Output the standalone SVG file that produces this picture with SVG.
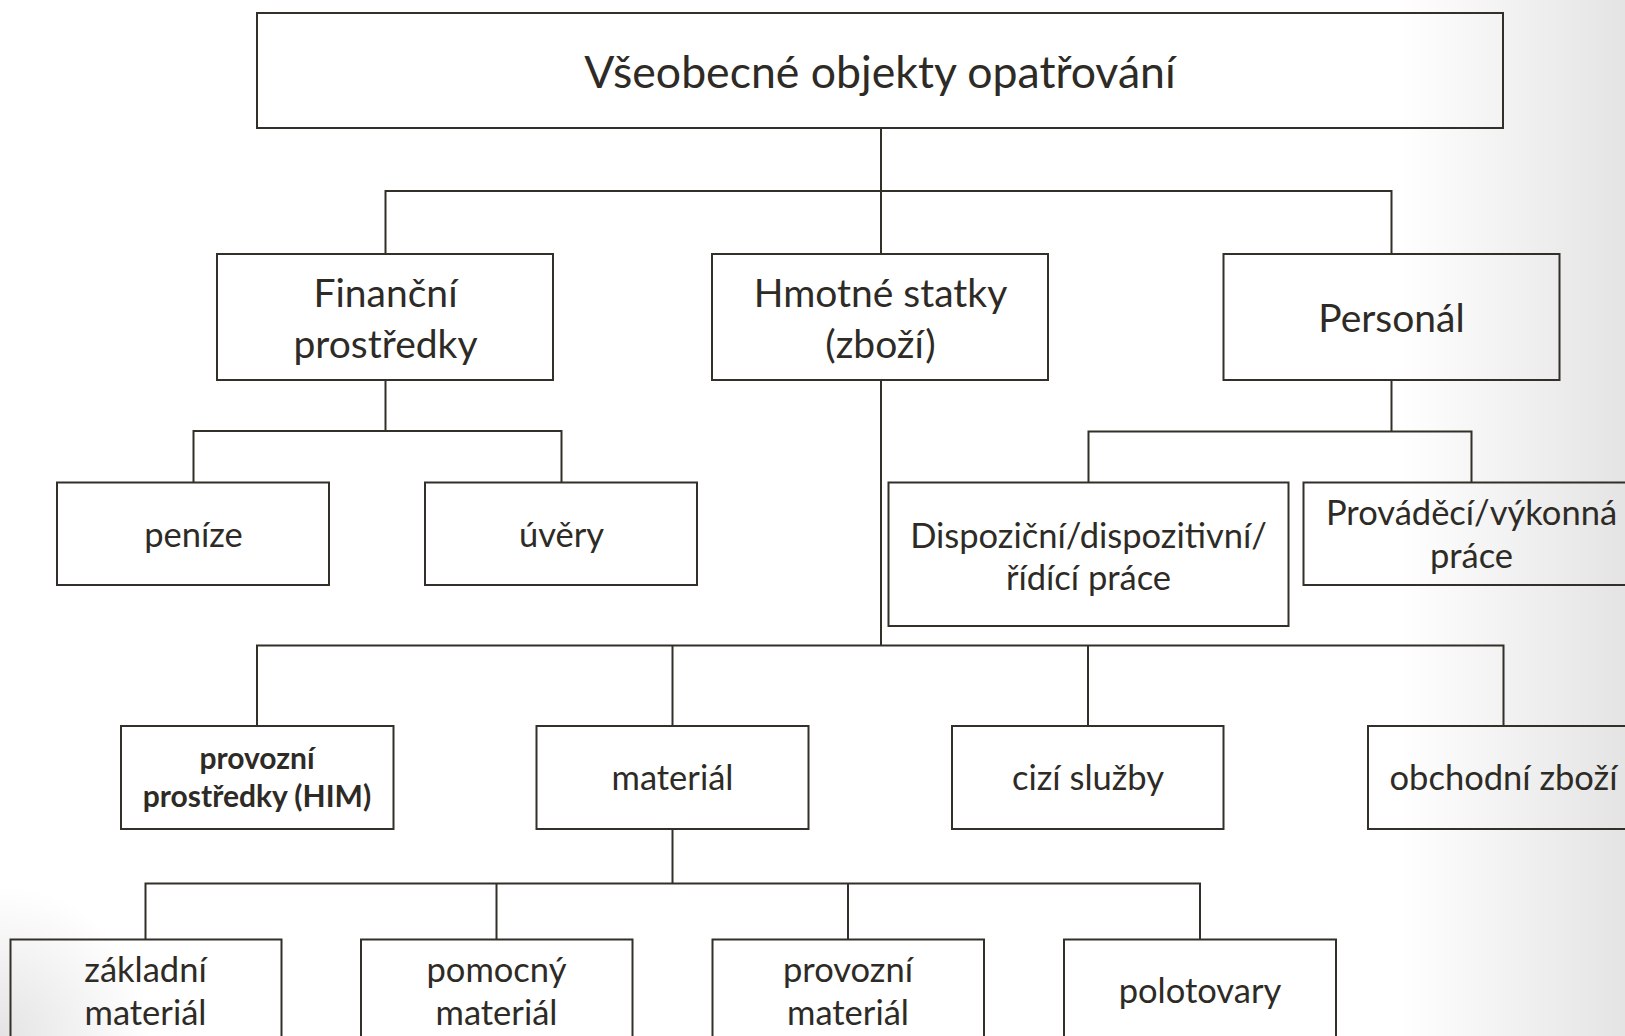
<svg xmlns="http://www.w3.org/2000/svg" width="1625" height="1036" viewBox="0 0 1625 1036">
  <defs>
    <linearGradient id="bgRight" x1="1400" y1="0" x2="1625" y2="0" gradientUnits="userSpaceOnUse">
      <stop offset="0" stop-color="#e4e4e4" stop-opacity="0"/>
      <stop offset="1" stop-color="#e4e4e4" stop-opacity="1"/>
    </linearGradient>
    <radialGradient id="bgCorner" cx="0" cy="1036" r="150" gradientUnits="userSpaceOnUse">
      <stop offset="0" stop-color="#e4e4e4" stop-opacity="1"/>
      <stop offset="1" stop-color="#e4e4e4" stop-opacity="0"/>
    </radialGradient>
    <style>
      .box { fill: none; stroke: #332f29; stroke-width: 2; }
      .con { fill: none; stroke: #332f29; stroke-width: 2; }
      .t { font-family: Lato, "Open Sans", sans-serif; fill: #2e2b26; text-anchor: middle; }
      .l1 { font-size: 44.6px; }
      .l2 { font-size: 39px; }
      .l3 { font-size: 34.5px; }
      .b { font-size: 30px; font-weight: bold; }
    </style>
  </defs>

  <rect x="0" y="0" width="1625" height="1036" fill="#ffffff"/>
  <rect x="1400" y="0" width="225" height="1036" fill="url(#bgRight)"/>
  <rect x="0" y="886" width="150" height="150" fill="url(#bgCorner)"/>

  <g id="connectors">
    <path class="con" d="M881 128 V254"/>
    <path class="con" d="M385.5 254 V191 H1391.5 V254"/>
    <path class="con" d="M385.5 380 V431"/>
    <path class="con" d="M193.5 482.5 V431 H561.5 V482.5"/>
    <path class="con" d="M1391.5 380 V431.5"/>
    <path class="con" d="M1088.5 482.5 V431.5 H1471.5 V482.5"/>
    <path class="con" d="M881 380 V645.5"/>
    <path class="con" d="M257 726 V645.5 H1503.5 V726"/>
    <path class="con" d="M672.5 645.5 V726"/>
    <path class="con" d="M1088 645.5 V726"/>
    <path class="con" d="M672.5 829 V883.5"/>
    <path class="con" d="M145.5 939.5 V883.5 H1200 V939.5"/>
    <path class="con" d="M496.5 883.5 V939.5"/>
    <path class="con" d="M848 883.5 V939.5"/>
  </g>

  <g id="node-root">
    <rect class="box" x="257" y="13" width="1246" height="115"/>
    <text class="t l1" x="880" y="88">Všeobecné objekty opatřování</text>
  </g>

  <g id="node-financni">
    <rect class="box" x="217" y="254" width="336" height="126"/>
    <text class="t l2" x="385.5" y="306.5">Finanční<tspan x="385.5" y="357.5">prostředky</tspan></text>
  </g>

  <g id="node-hmotne">
    <rect class="box" x="712" y="254" width="336" height="126"/>
    <text class="t l2" x="880.5" y="306.5">Hmotné statky<tspan x="880.5" y="357.5">(zboží)</tspan></text>
  </g>

  <g id="node-personal">
    <rect class="box" x="1223.5" y="254" width="336" height="126"/>
    <text class="t l2" x="1391.5" y="331.5">Personál</text>
  </g>

  <g id="node-penize">
    <rect class="box" x="57" y="482.5" width="272" height="102.5"/>
    <text class="t l3" x="193.5" y="547">peníze</text>
  </g>

  <g id="node-uvery">
    <rect class="box" x="425" y="482.5" width="272" height="102.5"/>
    <text class="t l3" x="561.5" y="547">úvěry</text>
  </g>

  <g id="node-dispozicni">
    <rect class="box" x="888.5" y="482.5" width="400" height="143.5"/>
    <text class="t l3" x="1088.5" y="547.5">Dispoziční/dispozitivní/<tspan x="1088.5" y="590">řídící práce</tspan></text>
  </g>

  <g id="node-provadeci">
    <rect class="box" x="1303.5" y="482.5" width="337" height="102.5"/>
    <text class="t l3" x="1471.5" y="525">Prováděcí/výkonná<tspan x="1471.5" y="568">práce</tspan></text>
  </g>

  <g id="node-provozni-prostredky">
    <rect class="box" x="121" y="726" width="272.5" height="103"/>
    <text class="t b" x="257" y="768.5">provozní<tspan x="257" y="806.5">prostředky (HIM)</tspan></text>
  </g>

  <g id="node-material">
    <rect class="box" x="536.5" y="726" width="272" height="103"/>
    <text class="t l3" x="672.5" y="789.5">materiál</text>
  </g>

  <g id="node-cizi-sluzby">
    <rect class="box" x="952" y="726" width="271.5" height="103"/>
    <text class="t l3" x="1088" y="789.5">cizí služby</text>
  </g>

  <g id="node-obchodni-zbozi">
    <rect class="box" x="1368" y="726" width="272" height="103"/>
    <text class="t l3" x="1503.5" y="789.5">obchodní zboží</text>
  </g>

  <g id="node-zakladni">
    <rect class="box" x="10.5" y="939.5" width="271" height="140"/>
    <text class="t l3" x="145.5" y="981.5">základní<tspan x="145.5" y="1025">materiál</tspan></text>
  </g>

  <g id="node-pomocny">
    <rect class="box" x="361" y="939.5" width="271.5" height="140"/>
    <text class="t l3" x="496.5" y="981.5">pomocný<tspan x="496.5" y="1025">materiál</tspan></text>
  </g>

  <g id="node-provozni-material">
    <rect class="box" x="712.5" y="939.5" width="271.5" height="140"/>
    <text class="t l3" x="848" y="981.5">provozní<tspan x="848" y="1025">materiál</tspan></text>
  </g>

  <g id="node-polotovary">
    <rect class="box" x="1064" y="939.5" width="272" height="140"/>
    <text class="t l3" x="1200" y="1002.5">polotovary</text>
  </g>
</svg>
